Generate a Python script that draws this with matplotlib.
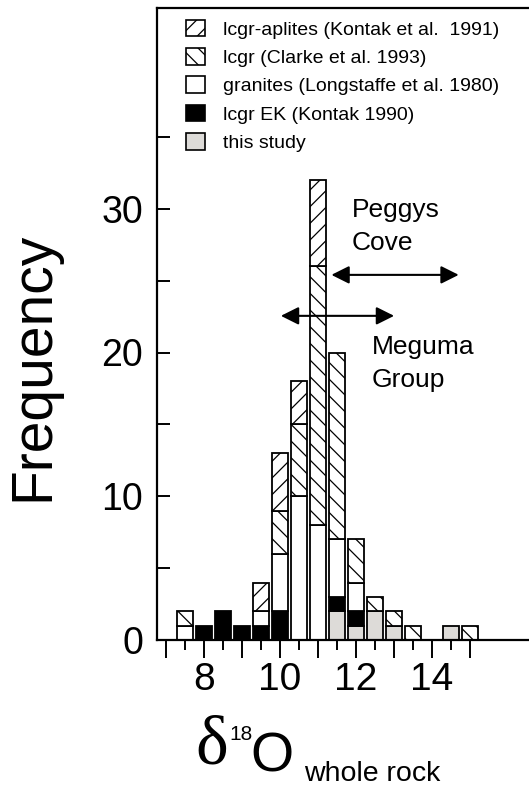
import numpy as np
import matplotlib
matplotlib.use("Agg")
import matplotlib.pyplot as plt
from matplotlib.patches import Patch

plt.rcParams['font.family'] = ['Liberation Sans', 'DejaVu Sans']
plt.rcParams['hatch.linewidth'] = 0.9

# bin centres of the d18O histogram (0.5 permil bins)
centers = [7.5, 8.0, 8.5, 9.0, 9.5, 10.0, 10.5, 11.0, 11.5, 12.0, 12.5, 13.0, 13.5, 14.0, 14.5, 15.0]

# counts per group, stacked bottom -> top
this_study = [0, 0, 0, 0, 0, 0, 0, 0, 2, 1, 2, 1, 0, 0, 1, 0]
lcgr_ek = [0, 1, 2, 1, 1, 2, 0, 0, 1, 1, 0, 0, 0, 0, 0, 0]
granites = [1, 0, 0, 0, 1, 4, 10, 8, 4, 2, 0, 0, 0, 0, 0, 0]
lcgr = [1, 0, 0, 0, 0, 3, 5, 18, 13, 3, 1, 1, 1, 0, 0, 1]
aplites = [0, 0, 0, 0, 2, 4, 3, 6, 0, 0, 0, 0, 0, 0, 0, 0]

labels = ["lcgr-aplites (Kontak et al.  1991)", "lcgr (Clarke et al. 1993)",
          "granites (Longstaffe et al. 1980)", "lcgr EK (Kontak 1990)", "this study"]

GRAY = '#dddbd8'
# (counts, facecolor, hatch, legend label) in stacking order
SERIES = [(this_study, GRAY, None, labels[4]),
          (lcgr_ek, 'black', None, labels[3]),
          (granites, 'white', None, labels[2]),
          (lcgr, 'white', '\\\\', labels[1]),
          (aplites, 'white', '//', labels[0])]

# peggys cove / meguma group ranges (arrows)
peggys_range = (11.35, 14.7)
peggys_y = 25.4
meguma_range = (10.02, 13.0)
meguma_y = 22.55

W, H = 529, 786
fig = plt.figure(figsize=(W / 100, H / 100), dpi=100)
ax = fig.add_axes([157 / W, 146 / H, 1 - 157 / W, (640 - 7.5) / H])

x = np.array(centers)
bottom = np.zeros(len(centers))
for counts, fc, hatch, lab in SERIES:
    counts = np.array(counts, dtype=float)
    m = counts > 0
    ax.bar(x[m], counts[m], width=0.42, bottom=bottom[m], color=fc, edgecolor='black',
           linewidth=1.3, hatch=hatch, zorder=2)
    bottom += counts

ax.set_xlim(6.76, 16.55)
ax.set_ylim(0, 44.0)

ax.spines['right'].set_visible(False)
for s in ['left', 'bottom', 'top']:
    ax.spines[s].set_linewidth(1.6)

ax.set_xticks(np.arange(7, 16, 1))
ax.set_xticks(np.arange(7.5, 15, 1), minor=True)
ax.set_xticklabels(['', '8', '', '10', '', '12', '', '14', ''])
ax.set_yticks([0, 10, 20, 30])
ax.set_yticks([5, 15, 25, 35], minor=True)

ax.tick_params(axis='x', which='major', direction='out', length=13, width=1.4,
               labelsize=28, pad=3)
ax.tick_params(axis='x', which='minor', direction='out', length=7, width=1.4)
ax.tick_params(axis='y', which='both', direction='in', length=9, width=1.4,
               labelsize=27, pad=10)

# arrows
ax.annotate('', xy=(peggys_range[1], peggys_y), xytext=(peggys_range[0], peggys_y),
            arrowprops=dict(arrowstyle='<|-|>,head_length=0.4,head_width=0.2',
                            color='black', lw=1.5, mutation_scale=27,
                            shrinkA=0, shrinkB=0), zorder=5)
ax.annotate('', xy=(meguma_range[1], meguma_y), xytext=(meguma_range[0], meguma_y),
            arrowprops=dict(arrowstyle='<|-|>,head_length=0.4,head_width=0.2',
                            color='black', lw=1.5, mutation_scale=27,
                            shrinkA=0, shrinkB=0), zorder=5)
ax.text(11.89, 30.75, "Peggys\nCove", fontsize=19, ha='left', va='top', linespacing=1.45)
ax.text(12.42, 21.2, "Meguma\nGroup", fontsize=19, ha='left', va='top', linespacing=1.45)

# legend
handles = [Patch(facecolor=fc, edgecolor='black', hatch=h, linewidth=1.2, label=lab)
           for _, fc, h, lab in SERIES[::-1]]
ax.legend(handles=handles, loc='upper left', bbox_to_anchor=(0.078, 0.981),
          frameon=False, fontsize=14, handlelength=0.98, handleheight=0.95,
          handletextpad=0.9, labelspacing=0.48, borderpad=0, borderaxespad=0)

# axis labels
fig.text(33 / W, 1 - 366 / H, "Frequency", rotation=90, fontsize=41,
         ha='center', va='center')
fig.text(195 / W, 1 - 763 / H, "\u03b4", fontsize=50, family='Liberation Serif',
         ha='left', va='baseline')
fig.text(229 / W, 1 - 740 / H, "18", fontsize=15, ha='left', va='baseline')
fig.text(250 / W, 1 - 772 / H, "O", fontsize=40, ha='left', va='baseline')
fig.text(304 / W, 1 - 781 / H, "whole rock", fontsize=20.5, ha='left', va='baseline')

fig.savefig("out.png", dpi=100)
